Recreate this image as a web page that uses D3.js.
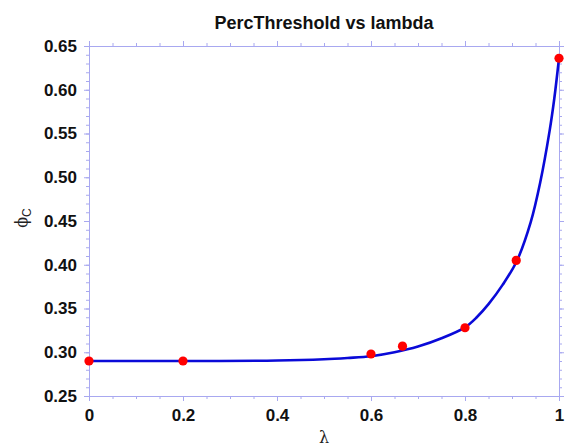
<!DOCTYPE html>
<html>
<head>
<meta charset="utf-8">
<script src="https://cdn.jsdelivr.net/npm/d3@7"></script>
<style>
  body { margin: 0; background: #fff; }
  svg { display: block; font-family: "Liberation Sans", Arial, sans-serif; }
</style>
</head>
<body>
<script>
(function (d3) {
  "use strict";

  /***** Data *****/
  var lambdaPoints = [0, 0.2, 0.6, 0.667, 0.8, 0.909, 1];
  var phiPoints = [0.290, 0.290, 0.298, 0.307, 0.328, 0.405, 0.636];

  // fitted curve
  var lambdaCurve = [0, 0.2, 0.4, 0.5, 0.55, 0.6, 0.65, 0.7, 0.75, 0.8, 0.825, 0.85, 0.88, 0.91, 0.94, 0.96, 0.98, 0.99, 1];
  var phiCurve = [0.290, 0.290, 0.2905, 0.292, 0.2935, 0.2955, 0.300, 0.3065, 0.316, 0.3285, 0.340, 0.355, 0.377, 0.404, 0.449, 0.494, 0.553, 0.590, 0.636];

  var xTicks = [0, 0.2, 0.4, 0.6, 0.8, 1];
  var yTicks = [0.25, 0.30, 0.35, 0.40, 0.45, 0.50, 0.55, 0.60, 0.65];

  /***** Config *****/
  var width = 565, height = 446;
  var margin = { top: 46, right: 6, bottom: 50, left: 89 };
  var w = 559 - margin.left;
  var h = 396 - margin.top;
  var frameColor = "#a8a8f0";

  var x = d3.scaleLinear().domain([0, 1]).range([0, w]);
  var y = d3.scaleLinear().domain([0.25, 0.65]).range([h, 0]);

  var svg = d3.select("body").append("svg")
      .attr("width", width)
      .attr("height", height);

  var g = svg.append("g")
      .attr("transform", "translate(" + margin.left + "," + margin.top + ")");

  /***** Axes *****/
  var xMinor = d3.range(0, 1.0001, 0.05);
  var yMinor = d3.range(0.25, 0.6501, 0.01);

  function styleAxis(sel) {
    sel.selectAll(".domain").attr("stroke", frameColor);
    sel.selectAll(".tick line").attr("stroke", frameColor);
    sel.selectAll("text")
        .attr("fill", "#111")
        .attr("font-weight", "bold")
        .attr("font-size", "17px");
  }

  // minor ticks
  g.append("g").attr("transform", "translate(0," + h + ")")
      .call(d3.axisBottom(x).tickValues(xMinor).tickSize(3).tickFormat(""))
      .call(styleAxis);
  g.append("g")
      .call(d3.axisTop(x).tickValues(xMinor).tickSize(3).tickFormat(""))
      .call(styleAxis);
  g.append("g")
      .call(d3.axisLeft(y).tickValues(yMinor).tickSize(3).tickFormat(""))
      .call(styleAxis);
  g.append("g").attr("transform", "translate(" + w + ",0)")
      .call(d3.axisRight(y).tickValues(yMinor).tickSize(3).tickFormat(""))
      .call(styleAxis);

  // major ticks
  g.append("g").attr("transform", "translate(0," + h + ")")
      .call(d3.axisBottom(x).tickValues(xTicks).tickSize(5).tickPadding(8).tickFormat(d3.format("")))
      .call(styleAxis);
  g.append("g")
      .call(d3.axisTop(x).tickValues(xTicks).tickSize(5).tickFormat(""))
      .call(styleAxis);
  g.append("g")
      .call(d3.axisLeft(y).tickValues(yTicks).tickSize(5).tickPadding(7).tickFormat(d3.format(".2f")))
      .call(styleAxis);
  g.append("g").attr("transform", "translate(" + w + ",0)")
      .call(d3.axisRight(y).tickValues(yTicks).tickSize(5).tickFormat(""))
      .call(styleAxis);

  /***** Curve and points *****/
  var line = d3.line()
      .x(function (d, i) { return x(lambdaCurve[i]); })
      .y(function (d, i) { return y(phiCurve[i]); })
      .curve(d3.curveCatmullRom.alpha(0.5));

  g.append("path")
      .datum(lambdaCurve)
      .attr("d", line)
      .attr("fill", "none")
      .attr("stroke", "#0a0ad8")
      .attr("stroke-width", 2.6);

  g.selectAll("circle.pt")
      .data(lambdaPoints)
      .enter().append("circle")
      .attr("class", "pt")
      .attr("cx", function (d) { return x(d); })
      .attr("cy", function (d, i) { return y(phiPoints[i]); })
      .attr("r", 4.6)
      .attr("fill", "#ff0000");

  /***** Labels *****/
  svg.append("text")
      .attr("x", margin.left + w / 2)
      .attr("y", 29)
      .attr("text-anchor", "middle")
      .attr("font-weight", "bold")
      .attr("font-size", "18px")
      .attr("fill", "#111")
      .text("PercThreshold vs lambda");

  svg.append("text")
      .attr("x", margin.left + w / 2)
      .attr("y", 443)
      .attr("text-anchor", "middle")
      .attr("font-family", "'DejaVu Serif', serif")
      .attr("font-size", "16px")
      .attr("fill", "#222")
      .text("λ");

  var yl = svg.append("text")
      .attr("transform", "translate(27,218) rotate(-90)")
      .attr("text-anchor", "middle")
      .attr("font-family", "'DejaVu Serif', serif")
      .attr("font-size", "16px")
      .attr("fill", "#222");
  yl.append("tspan").text("ϕ");
  yl.append("tspan").attr("dy", 4).attr("font-size", "12px")
      .attr("font-family", "'Liberation Sans', Arial, sans-serif").text("C");

})(d3);
</script>
</body>
</html>
